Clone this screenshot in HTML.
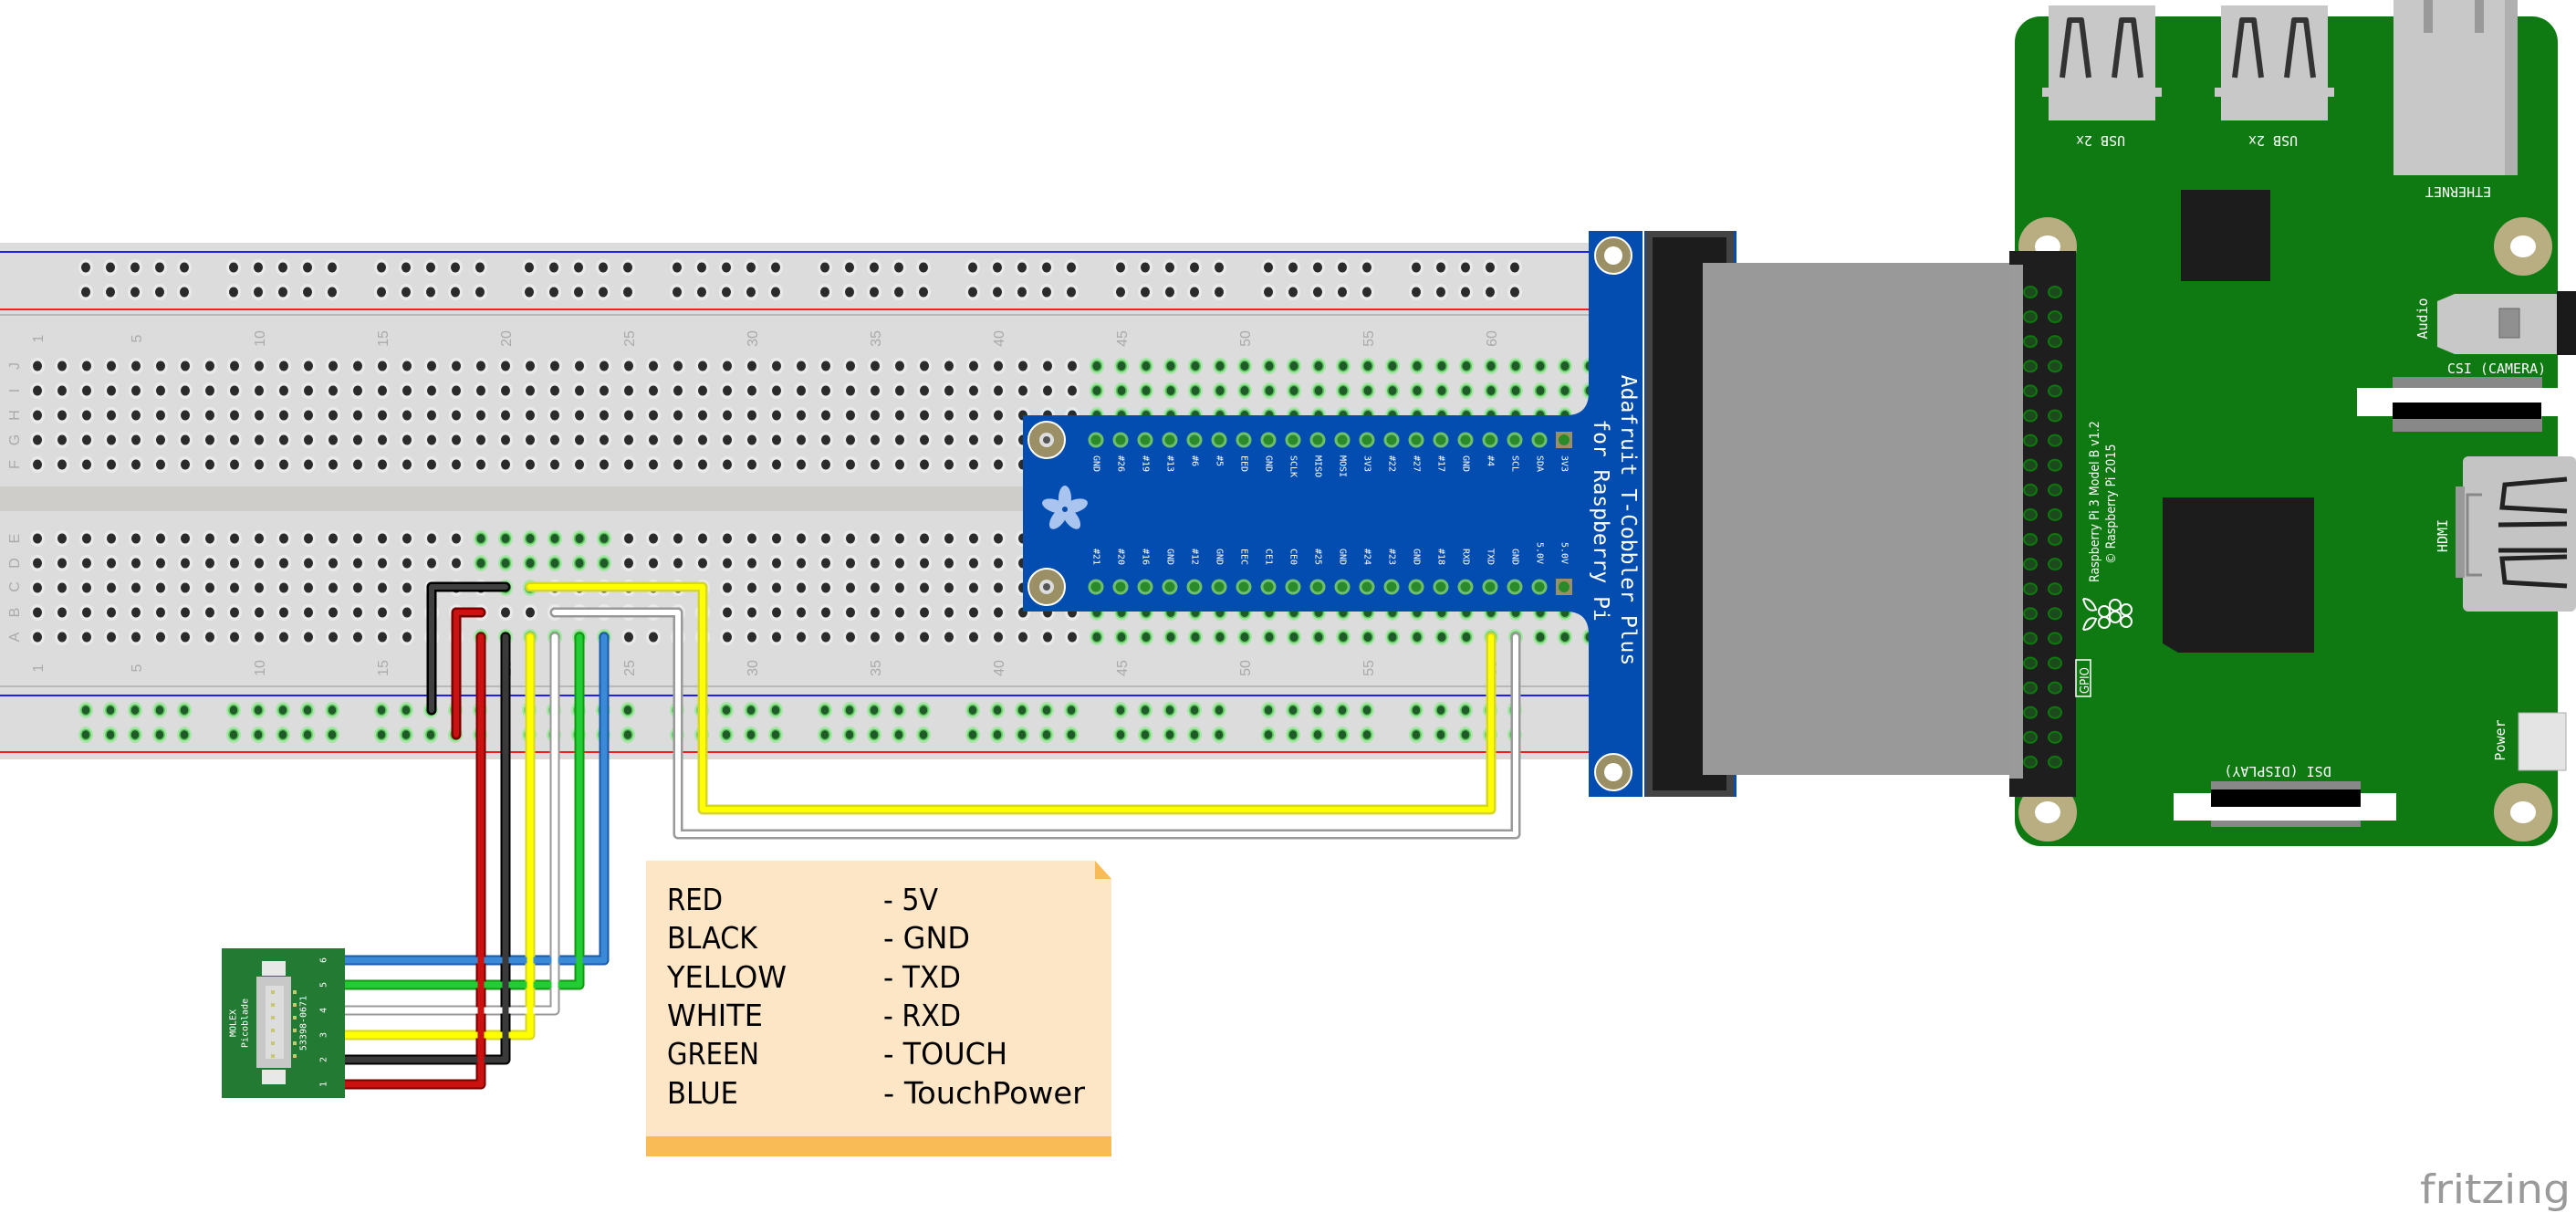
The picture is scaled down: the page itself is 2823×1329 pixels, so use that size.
<!DOCTYPE html>
<html><head><meta charset="utf-8"><style>html,body{margin:0;padding:0;background:#fff}svg{display:block}</style></head>
<body>
<svg xmlns="http://www.w3.org/2000/svg" width="2823" height="1329" viewBox="0 0 2823 1329">
<defs>
<pattern id="hg" patternUnits="userSpaceOnUse" x="27.5" y="387.5" width="27" height="27">
 <ellipse cx="13.5" cy="13.5" rx="8" ry="9" fill="#eaeaea"/><ellipse cx="13.5" cy="13.5" rx="5" ry="5.5" fill="#2b2b2b"/>
</pattern>
<pattern id="gg" patternUnits="userSpaceOnUse" x="27.5" y="387.5" width="27" height="27">
 <rect width="27" height="27" fill="#dcdcdc"/>
 <ellipse cx="13.5" cy="13.5" rx="8" ry="9" fill="#a6e6a6"/><ellipse cx="13.5" cy="13.5" rx="6" ry="6.5" fill="#5cc45c"/><ellipse cx="13.5" cy="13.5" rx="4.5" ry="5" fill="#1f5a28"/>
</pattern>
<pattern id="rt" patternUnits="userSpaceOnUse" x="80.5" y="279.5" width="162" height="54">
 <g fill="#eaeaea"><ellipse cx="13.5" cy="13.5" rx="8" ry="9"/><ellipse cx="40.5" cy="13.5" rx="8" ry="9"/><ellipse cx="67.5" cy="13.5" rx="8" ry="9"/><ellipse cx="94.5" cy="13.5" rx="8" ry="9"/><ellipse cx="121.5" cy="13.5" rx="8" ry="9"/>
 <ellipse cx="13.5" cy="40.5" rx="8" ry="9"/><ellipse cx="40.5" cy="40.5" rx="8" ry="9"/><ellipse cx="67.5" cy="40.5" rx="8" ry="9"/><ellipse cx="94.5" cy="40.5" rx="8" ry="9"/><ellipse cx="121.5" cy="40.5" rx="8" ry="9"/></g>
 <g fill="#2b2b2b"><ellipse cx="13.5" cy="13.5" rx="5" ry="5.5"/><ellipse cx="40.5" cy="13.5" rx="5" ry="5.5"/><ellipse cx="67.5" cy="13.5" rx="5" ry="5.5"/><ellipse cx="94.5" cy="13.5" rx="5" ry="5.5"/><ellipse cx="121.5" cy="13.5" rx="5" ry="5.5"/>
 <ellipse cx="13.5" cy="40.5" rx="5" ry="5.5"/><ellipse cx="40.5" cy="40.5" rx="5" ry="5.5"/><ellipse cx="67.5" cy="40.5" rx="5" ry="5.5"/><ellipse cx="94.5" cy="40.5" rx="5" ry="5.5"/><ellipse cx="121.5" cy="40.5" rx="5" ry="5.5"/></g>
</pattern>
<pattern id="rb" patternUnits="userSpaceOnUse" x="80.5" y="764.5" width="162" height="54">
 <g fill="#a6e6a6"><ellipse cx="13.5" cy="13.5" rx="8" ry="9"/><ellipse cx="40.5" cy="13.5" rx="8" ry="9"/><ellipse cx="67.5" cy="13.5" rx="8" ry="9"/><ellipse cx="94.5" cy="13.5" rx="8" ry="9"/><ellipse cx="121.5" cy="13.5" rx="8" ry="9"/>
 <ellipse cx="13.5" cy="40.5" rx="8" ry="9"/><ellipse cx="40.5" cy="40.5" rx="8" ry="9"/><ellipse cx="67.5" cy="40.5" rx="8" ry="9"/><ellipse cx="94.5" cy="40.5" rx="8" ry="9"/><ellipse cx="121.5" cy="40.5" rx="8" ry="9"/></g>
 <g fill="#1f5a28" stroke="#5cc45c" stroke-width="1.5"><ellipse cx="13.5" cy="13.5" rx="5" ry="5.5"/><ellipse cx="40.5" cy="13.5" rx="5" ry="5.5"/><ellipse cx="67.5" cy="13.5" rx="5" ry="5.5"/><ellipse cx="94.5" cy="13.5" rx="5" ry="5.5"/><ellipse cx="121.5" cy="13.5" rx="5" ry="5.5"/>
 <ellipse cx="13.5" cy="40.5" rx="5" ry="5.5"/><ellipse cx="40.5" cy="40.5" rx="5" ry="5.5"/><ellipse cx="67.5" cy="40.5" rx="5" ry="5.5"/><ellipse cx="94.5" cy="40.5" rx="5" ry="5.5"/><ellipse cx="121.5" cy="40.5" rx="5" ry="5.5"/></g>
</pattern>
<pattern id="gp" patternUnits="userSpaceOnUse" x="2211" y="306.5" width="27" height="27.1">
 <ellipse cx="14" cy="13.5" rx="7" ry="6" fill="#1c4a1c" stroke="#0d7a0d" stroke-width="2"/>
</pattern>
</defs>

<!-- Breadboard -->
<rect x="0" y="266" width="1745" height="566" fill="#dcdcdc"/>
<line x1="0" y1="276" x2="1745" y2="276" stroke="#2020ee" stroke-width="2"/>
<line x1="0" y1="339" x2="1745" y2="339" stroke="#ee2020" stroke-width="2"/>
<line x1="0" y1="345" x2="1745" y2="345" stroke="#b8b8b8" stroke-width="2"/>
<rect x="0" y="533" width="1745" height="27" fill="#cfcdca"/>
<line x1="0" y1="752" x2="1745" y2="752" stroke="#b8b8b8" stroke-width="2"/>
<line x1="0" y1="762" x2="1745" y2="762" stroke="#2020ee" stroke-width="2"/>
<line x1="0" y1="824" x2="1745" y2="824" stroke="#ee2020" stroke-width="2"/>
<rect x="80.5" y="279.5" width="1620" height="54" fill="url(#rt)"/>
<rect x="80.5" y="764.5" width="1620" height="54" fill="url(#rb)"/>
<rect x="27.5" y="387.5" width="1728" height="135" fill="url(#hg)"/>
<rect x="27.5" y="576.5" width="1728" height="135" fill="url(#hg)"/>
<rect x="1188.5" y="387.5" width="567" height="135" fill="url(#gg)"/>
<rect x="1188.5" y="576.5" width="567" height="135" fill="url(#gg)"/>
<rect x="513.5" y="576.5" width="162" height="54" fill="url(#gg)"/>
<rect x="540.5" y="630.5" width="54" height="27" fill="url(#gg)"/>
<rect x="513.5" y="684.5" width="162" height="27" fill="url(#gg)"/>
<g font-family="Liberation Sans, sans-serif" font-size="16" fill="#aaa" text-anchor="middle">
 <g id="nums">
 <text transform="translate(47,371) rotate(-90)">1</text><text transform="translate(155,371) rotate(-90)">5</text><text transform="translate(290,371) rotate(-90)">10</text><text transform="translate(425,371) rotate(-90)">15</text><text transform="translate(560,371) rotate(-90)">20</text><text transform="translate(695,371) rotate(-90)">25</text><text transform="translate(830,371) rotate(-90)">30</text><text transform="translate(965,371) rotate(-90)">35</text><text transform="translate(1100,371) rotate(-90)">40</text><text transform="translate(1235,371) rotate(-90)">45</text><text transform="translate(1370,371) rotate(-90)">50</text><text transform="translate(1505,371) rotate(-90)">55</text><text transform="translate(1640,371) rotate(-90)">60</text>
 </g>
 <g transform="translate(0,361)">
 <text transform="translate(47,371) rotate(-90)">1</text><text transform="translate(155,371) rotate(-90)">5</text><text transform="translate(290,371) rotate(-90)">10</text><text transform="translate(425,371) rotate(-90)">15</text><text transform="translate(560,371) rotate(-90)">20</text><text transform="translate(695,371) rotate(-90)">25</text><text transform="translate(830,371) rotate(-90)">30</text><text transform="translate(965,371) rotate(-90)">35</text><text transform="translate(1100,371) rotate(-90)">40</text><text transform="translate(1235,371) rotate(-90)">45</text><text transform="translate(1370,371) rotate(-90)">50</text><text transform="translate(1505,371) rotate(-90)">55</text><text transform="translate(1640,371) rotate(-90)">60</text>
 </g>
 <text transform="translate(21,401) rotate(-90)">J</text><text transform="translate(21,428) rotate(-90)">I</text><text transform="translate(21,455) rotate(-90)">H</text><text transform="translate(21,482) rotate(-90)">G</text><text transform="translate(21,509) rotate(-90)">F</text>
 <text transform="translate(21,590) rotate(-90)">E</text><text transform="translate(21,617) rotate(-90)">D</text><text transform="translate(21,643) rotate(-90)">C</text><text transform="translate(21,671) rotate(-90)">B</text><text transform="translate(21,698) rotate(-90)">A</text>
</g>

<!-- Cobbler -->
<path d="M1121,455 H1716 Q1741,455 1741,430 V253 H1903 V873 H1741 V695 Q1741,670 1716,670 H1121 Z" fill="#034db1"/>
<line x1="1801" y1="253" x2="1801" y2="873" stroke="#fff" stroke-width="2"/>
<g>
 <circle cx="1147" cy="482" r="20" fill="#9b8f66" stroke="#fff" stroke-width="2"/><circle cx="1147" cy="482" r="8" fill="#ddd"/><circle cx="1147" cy="482" r="4" fill="#555"/>
 <circle cx="1147" cy="643" r="20" fill="#9b8f66" stroke="#fff" stroke-width="2"/><circle cx="1147" cy="643" r="8" fill="#ddd"/><circle cx="1147" cy="643" r="4" fill="#555"/>
 <circle cx="1768" cy="280" r="20" fill="#9b8f66" stroke="#fff" stroke-width="2"/><circle cx="1768" cy="280" r="10" fill="#fff"/>
 <circle cx="1768" cy="846" r="20" fill="#9b8f66" stroke="#fff" stroke-width="2"/><circle cx="1768" cy="846" r="10" fill="#fff"/>
</g>
<g fill="#2a8a2a" stroke="#6cc06c" stroke-width="3">
 <circle cx="1201" cy="482" r="7"/><circle cx="1228" cy="482" r="7"/><circle cx="1255" cy="482" r="7"/><circle cx="1282" cy="482" r="7"/><circle cx="1309" cy="482" r="7"/><circle cx="1336" cy="482" r="7"/><circle cx="1363" cy="482" r="7"/><circle cx="1390" cy="482" r="7"/><circle cx="1417" cy="482" r="7"/><circle cx="1444" cy="482" r="7"/><circle cx="1471" cy="482" r="7"/><circle cx="1498" cy="482" r="7"/><circle cx="1525" cy="482" r="7"/><circle cx="1552" cy="482" r="7"/><circle cx="1579" cy="482" r="7"/><circle cx="1606" cy="482" r="7"/><circle cx="1633" cy="482" r="7"/><circle cx="1660" cy="482" r="7"/><circle cx="1687" cy="482" r="7"/>
 <circle cx="1201" cy="643" r="7"/><circle cx="1228" cy="643" r="7"/><circle cx="1255" cy="643" r="7"/><circle cx="1282" cy="643" r="7"/><circle cx="1309" cy="643" r="7"/><circle cx="1336" cy="643" r="7"/><circle cx="1363" cy="643" r="7"/><circle cx="1390" cy="643" r="7"/><circle cx="1417" cy="643" r="7"/><circle cx="1444" cy="643" r="7"/><circle cx="1471" cy="643" r="7"/><circle cx="1498" cy="643" r="7"/><circle cx="1525" cy="643" r="7"/><circle cx="1552" cy="643" r="7"/><circle cx="1579" cy="643" r="7"/><circle cx="1606" cy="643" r="7"/><circle cx="1633" cy="643" r="7"/><circle cx="1660" cy="643" r="7"/><circle cx="1687" cy="643" r="7"/>
</g>
<rect x="1705" y="473" width="18" height="18" fill="#9b8f66"/><circle cx="1714" cy="482" r="6" fill="#2a8a2a"/>
<rect x="1705" y="634" width="18" height="18" fill="#9b8f66"/><circle cx="1714" cy="643" r="6" fill="#2a8a2a"/>
<g font-family="DejaVu Sans Mono, Liberation Mono, monospace" font-size="10" fill="#fff" dominant-baseline="central">
 <text transform="translate(1201,499) rotate(90)">GND</text><text transform="translate(1228,499) rotate(90)">#26</text><text transform="translate(1255,499) rotate(90)">#19</text><text transform="translate(1282,499) rotate(90)">#13</text><text transform="translate(1309,499) rotate(90)">#6</text><text transform="translate(1336,499) rotate(90)">#5</text><text transform="translate(1363,499) rotate(90)">EED</text><text transform="translate(1390,499) rotate(90)">GND</text><text transform="translate(1417,499) rotate(90)">SCLK</text><text transform="translate(1444,499) rotate(90)">MISO</text><text transform="translate(1471,499) rotate(90)">MOSI</text><text transform="translate(1498,499) rotate(90)">3V3</text><text transform="translate(1525,499) rotate(90)">#22</text><text transform="translate(1552,499) rotate(90)">#27</text><text transform="translate(1579,499) rotate(90)">#17</text><text transform="translate(1606,499) rotate(90)">GND</text><text transform="translate(1633,499) rotate(90)">#4</text><text transform="translate(1660,499) rotate(90)">SCL</text><text transform="translate(1687,499) rotate(90)">SDA</text><text transform="translate(1714,499) rotate(90)">3V3</text>
 <text transform="translate(1201,601) rotate(90)">#21</text><text transform="translate(1228,601) rotate(90)">#20</text><text transform="translate(1255,601) rotate(90)">#16</text><text transform="translate(1282,601) rotate(90)">GND</text><text transform="translate(1309,601) rotate(90)">#12</text><text transform="translate(1336,601) rotate(90)">GND</text><text transform="translate(1363,601) rotate(90)">EEC</text><text transform="translate(1390,601) rotate(90)">CE1</text><text transform="translate(1417,601) rotate(90)">CE0</text><text transform="translate(1444,601) rotate(90)">#25</text><text transform="translate(1471,601) rotate(90)">GND</text><text transform="translate(1498,601) rotate(90)">#24</text><text transform="translate(1525,601) rotate(90)">#23</text><text transform="translate(1552,601) rotate(90)">GND</text><text transform="translate(1579,601) rotate(90)">#18</text><text transform="translate(1606,601) rotate(90)">RXD</text><text transform="translate(1633,601) rotate(90)">TXD</text><text transform="translate(1660,601) rotate(90)">GND</text><text transform="translate(1687,594) rotate(90)">5.0V</text><text transform="translate(1714,594) rotate(90)">5.0V</text>
</g>
<!-- flower -->
<g transform="translate(1167,558)" fill="#a9c4ee">
 <ellipse cx="0" cy="-12" rx="7" ry="14"/><ellipse cx="0" cy="-12" rx="7" ry="14" transform="rotate(72)"/><ellipse cx="0" cy="-12" rx="7" ry="14" transform="rotate(144)"/><ellipse cx="0" cy="-12" rx="7" ry="14" transform="rotate(216)"/><ellipse cx="0" cy="-12" rx="7" ry="14" transform="rotate(288)"/>
 <circle r="3" fill="#034db1"/>
</g>
<g font-family="DejaVu Sans Mono, Liberation Mono, monospace" font-size="23" fill="#fff" text-anchor="middle" dominant-baseline="central">
 <text transform="translate(1784,570) rotate(90)">Adafruit T-Cobbler Plus</text>
 <text transform="translate(1754,570) rotate(90)">for Raspberry Pi</text>
</g>

<!-- ribbon -->
<rect x="1803" y="253" width="97" height="620" fill="#444"/>
<rect x="1811" y="260" width="81" height="606" fill="#1c1c1c"/>
<rect x="1866" y="288" width="352" height="561" fill="#999"/>

<!-- Raspberry Pi -->
<rect x="2208" y="18" width="595" height="909" rx="28" fill="#0f7a12"/>
<g fill="#c8c8c8">
 <rect x="2245" y="6" width="117" height="126"/><rect x="2238" y="96" width="131" height="10"/>
 <rect x="2434" y="6" width="117" height="126"/><rect x="2427" y="96" width="131" height="10"/>
 <rect x="2623" y="0" width="136" height="192"/>
</g>
<rect x="2745" y="0" width="14" height="192" fill="#b0b0b0"/>
<rect x="2656" y="0" width="10" height="36" fill="#999"/><rect x="2712" y="0" width="10" height="36" fill="#999"/>
<g fill="none" stroke="#333" stroke-width="6" stroke-linejoin="round">
 <path d="M2260,85 L2268,22 H2281 L2289,85"/><path d="M2317,85 L2325,22 H2338 L2346,85"/>
 <path d="M2449,85 L2457,22 H2470 L2478,85"/><path d="M2506,85 L2514,22 H2527 L2535,85"/>
</g>
<g font-family="DejaVu Sans Mono, Liberation Mono, monospace" font-size="15" fill="#fff" text-anchor="middle" dominant-baseline="central">
 <text transform="translate(2302,154) rotate(180)">USB 2x</text>
 <text transform="translate(2491,154) rotate(180)">USB 2x</text>
 <text transform="translate(2694,210) rotate(180)">ETHERNET</text>
 <text transform="translate(2736,404)">CSI (CAMERA)</text>
 <text transform="translate(2496,845) rotate(180)">DSI (DISPLAY)</text>
 <text transform="translate(2655,349) rotate(-90)">Audio</text>
 <text transform="translate(2677,587) rotate(-90)">HDMI</text>
 <text transform="translate(2740,811) rotate(-90)">Power</text>
</g>
<g fill="#b9ae82">
 <circle cx="2244" cy="270" r="32"/><circle cx="2765" cy="270" r="32"/><circle cx="2244" cy="890" r="32"/><circle cx="2765" cy="890" r="32"/>
</g>
<g fill="#fff"><ellipse cx="2244" cy="270" rx="14" ry="12"/><ellipse cx="2765" cy="270" rx="14" ry="12"/><ellipse cx="2244" cy="890" rx="14" ry="12"/><ellipse cx="2765" cy="890" rx="14" ry="12"/></g>
<rect x="2390" y="208" width="98" height="100" fill="#1c1c1c"/>
<path d="M2370,545 H2536 V715 H2387 L2370,705 Z" fill="#1c1c1c"/>
<rect x="2202" y="275" width="73" height="598" fill="#1e1e1e"/>
<rect x="2202" y="290" width="15" height="563" fill="#9a9a9a"/>
<rect x="2211" y="306.5" width="54" height="542" fill="url(#gp)"/>
<rect x="2275" y="723" width="16" height="40" fill="none" stroke="#fff" stroke-width="1.5"/>
<text transform="translate(2289,760) rotate(-90)" font-family="DejaVu Sans Condensed, DejaVu Sans, sans-serif" font-size="13" fill="#fff">GPIO</text>
<text transform="translate(2300,638) rotate(-90)" font-family="DejaVu Sans Condensed, DejaVu Sans, sans-serif" font-size="14" fill="#fff">Raspberry Pi 3 Model B v1.2</text>
<text transform="translate(2318,618) rotate(-90)" font-family="DejaVu Sans Condensed, DejaVu Sans, sans-serif" font-size="14" fill="#fff">© Raspberry Pi 2015</text>
<g fill="none" stroke="#fff" stroke-width="2">
 <circle cx="2318" cy="663" r="6"/><circle cx="2330" cy="668" r="6"/><circle cx="2318" cy="676" r="6"/><circle cx="2330" cy="681" r="6"/><circle cx="2306" cy="670" r="6"/><circle cx="2306" cy="682" r="6"/>
 <path d="M2283,656 q10,0 14,12 q-10,4 -14,-12 M2283,690 q10,0 14,-12 q-10,-4 -14,12"/>
</g>
<!-- audio -->
<path d="M2690,322 H2802 V388 H2690 L2671,380 V330 Z" fill="#c8c8c8"/>
<rect x="2802" y="319" width="21" height="70" fill="#1a1a1a"/>
<rect x="2739" y="338" width="22" height="32" fill="#909090" stroke="#666"/>
<!-- CSI -->
<rect x="2622" y="413" width="164" height="60" fill="#888"/>
<rect x="2583" y="425" width="220" height="31" fill="#fff"/>
<rect x="2622" y="441" width="163" height="18" fill="#000"/>
<!-- HDMI -->
<rect x="2699" y="500" width="124" height="170" rx="6" fill="#c4c4c4"/>
<rect x="2691" y="533" width="10" height="100" fill="#999"/>
<path d="M2720,542 H2704 V630 H2720" fill="none" stroke="#888" stroke-width="3"/>
<g stroke="#222" stroke-width="5" fill="none"><path d="M2813,525 L2745,531 L2742,556 L2813,560"/><path d="M2813,574 L2738,575 M2813,603 L2738,603"/><path d="M2813,642 L2745,638 L2742,612 L2813,610"/></g>
<!-- power -->
<rect x="2760" y="781" width="52" height="63" fill="#e4e4e4" stroke="#aaa"/>
<!-- DSI -->
<rect x="2423" y="856" width="164" height="50" fill="#888"/>
<rect x="2382" y="869" width="244" height="30" fill="#fff"/>
<rect x="2423" y="865" width="164" height="19" fill="#000"/>

<!-- Wires -->
<g fill="none" stroke-linecap="round" stroke-linejoin="round">
 <g stroke-width="11">
  <path d="M554,643 H473 V778" stroke="#000"/>
  <path d="M527,671 H500 V805" stroke="#7a0000"/>
  <path d="M581,643 H770 V887 H1634 V698" stroke="#d6d62a"/>
  <path d="M608,671 H743 V914 H1661 V698" stroke="#999"/>
 </g>
 <g stroke-width="6">
  <path d="M554,643 H473 V778" stroke="#404040"/>
  <path d="M527,671 H500 V805" stroke="#cc1111"/>
  <path d="M581,643 H770 V887 H1634 V698" stroke="#ffff00"/>
  <path d="M608,671 H743 V914 H1661 V698" stroke="#fff"/>
 </g>
 <g stroke-width="11">
  <path d="M662,698 V1052 H364" stroke="#1a5aaa"/>
  <path d="M635,698 V1079 H364" stroke="#119911"/>
  <path d="M608,698 V1107 H364" stroke="#999"/>
  <path d="M581,698 V1134 H364" stroke="#d6d62a"/>
  <path d="M554,698 V1161 H364" stroke="#000"/>
  <path d="M527,698 V1188 H364" stroke="#7a0000"/>
 </g>
 <g stroke-width="7">
  <path d="M662,698 V1052 H364" stroke="#3a8ad8"/>
  <path d="M635,698 V1079 H364" stroke="#22cc33"/>
  <path d="M608,698 V1107 H364" stroke="#fff"/>
  <path d="M581,698 V1134 H364" stroke="#ffff00"/>
  <path d="M554,698 V1161 H364" stroke="#3a3a3a"/>
  <path d="M527,698 V1188 H364" stroke="#cc1111"/>
 </g>
</g>

<!-- Molex -->
<rect x="243" y="1039" width="135" height="164" fill="#237a32"/>
<rect x="281" y="1070" width="38" height="100" fill="#c8c8c8"/>
<rect x="287" y="1053" width="26" height="16" fill="#e8e8e8"/><rect x="287" y="1172" width="26" height="16" fill="#e8e8e8"/>
<rect x="291" y="1080" width="20" height="80" fill="#ddd"/>
<g fill="#c8c870"><rect x="297" y="1085" width="4" height="4"/><rect x="297" y="1099" width="4" height="4"/><rect x="297" y="1113" width="4" height="4"/><rect x="297" y="1127" width="4" height="4"/><rect x="297" y="1141" width="4" height="4"/><rect x="297" y="1155" width="4" height="4"/>
<rect x="321" y="1085" width="4" height="4"/><rect x="321" y="1099" width="4" height="4"/><rect x="321" y="1113" width="4" height="4"/><rect x="321" y="1127" width="4" height="4"/><rect x="321" y="1141" width="4" height="4"/><rect x="321" y="1155" width="4" height="4"/></g>
<g font-family="DejaVu Sans Mono, Liberation Mono, monospace" font-size="10" fill="#fff" text-anchor="middle" dominant-baseline="central">
 <text transform="translate(256,1121) rotate(-90)">MOLEX</text>
 <text transform="translate(269,1121) rotate(-90)">Picoblade</text>
 <text transform="translate(333,1121) rotate(-90)">53398-0671</text>
 <text transform="translate(355,1052) rotate(-90)">6</text><text transform="translate(355,1079) rotate(-90)">5</text><text transform="translate(355,1107) rotate(-90)">4</text><text transform="translate(355,1134) rotate(-90)">3</text><text transform="translate(355,1161) rotate(-90)">2</text><text transform="translate(355,1188) rotate(-90)">1</text>
</g>

<!-- Note -->
<path d="M708,943 H1200 L1218,963 V1267 H708 Z" fill="#fde6c6"/>
<path d="M1200,943 L1218,963 H1200 Z" fill="#f9bb55"/>
<rect x="708" y="1245" width="510" height="22" fill="#f9bb55"/>
<g font-family="DejaVu Sans Condensed, DejaVu Sans, Liberation Sans, sans-serif" font-size="33" fill="#000" lengthAdjust="spacingAndGlyphs">
 <text x="731" y="997" textLength="61" lengthAdjust="spacingAndGlyphs">RED</text>
 <text x="731" y="1039" textLength="99" lengthAdjust="spacingAndGlyphs">BLACK</text>
 <text x="731" y="1082" textLength="131" lengthAdjust="spacingAndGlyphs">YELLOW</text>
 <text x="731" y="1124" textLength="105" lengthAdjust="spacingAndGlyphs">WHITE</text>
 <text x="731" y="1166" textLength="101" lengthAdjust="spacingAndGlyphs">GREEN</text>
 <text x="731" y="1209" textLength="78" lengthAdjust="spacingAndGlyphs">BLUE</text>
 <text x="968" y="997" textLength="60" lengthAdjust="spacingAndGlyphs">- 5V</text>
 <text x="968" y="1039" textLength="95" lengthAdjust="spacingAndGlyphs">- GND</text>
 <text x="968" y="1082" textLength="85" lengthAdjust="spacingAndGlyphs">- TXD</text>
 <text x="968" y="1124" textLength="85" lengthAdjust="spacingAndGlyphs">- RXD</text>
 <text x="968" y="1166" textLength="136" lengthAdjust="spacingAndGlyphs">- TOUCH</text>
 <text x="968" y="1209" textLength="221" lengthAdjust="spacingAndGlyphs">- TouchPower</text>
</g>

<text x="2652" y="1318" font-family="DejaVu Sans, Liberation Sans, sans-serif" font-size="44" fill="#9a9a9a" textLength="165" lengthAdjust="spacingAndGlyphs">fritzing</text>
</svg>
</body></html>
